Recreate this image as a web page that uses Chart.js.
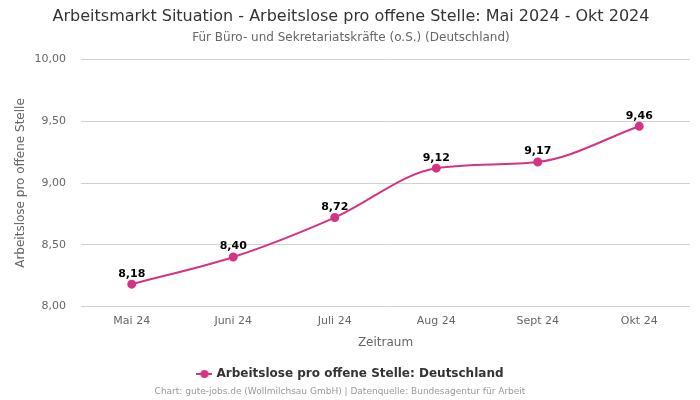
<!DOCTYPE html>
<html>
<head>
<meta charset="utf-8">
<script src="https://cdn.jsdelivr.net/npm/chart.js@4.4.0/dist/chart.umd.min.js"></script>
<style>
  html, body { margin: 0; padding: 0; background: #fff; }
  #wrap { width: 700px; height: 400px; }
</style>
</head>
<body>
<div id="wrap"><canvas id="c"></canvas></div>
<script>
const categories = ["Mai 24", "Juni 24", "Juli 24", "Aug 24", "Sept 24", "Okt 24"];
const values = [8.18, 8.40, 8.72, 9.12, 9.17, 9.46];
const seriesName = "Arbeitslose pro offene Stelle: Deutschland";
const pink = "#d63384";

const fmt = v => v.toFixed(2).replace(".", ",");

// legend marker: short line with a dot in the middle
const marker = document.createElement("canvas");
marker.width = 16;
marker.height = 10;
(() => {
    const m = marker.getContext("2d");
    m.strokeStyle = pink;
    m.fillStyle = pink;
    m.lineWidth = 2;
    m.beginPath();
    m.moveTo(0, 5);
    m.lineTo(16, 5);
    m.stroke();
    m.beginPath();
    m.arc(8, 5, 4, 0, Math.PI * 2);
    m.fill();
})();

const pointLabels = {
    id: "pointLabels",
    afterDatasetsDraw(chart) {
        const ctx = chart.ctx;
        const meta = chart.getDatasetMeta(0);
        ctx.save();
        ctx.font = "bold 11px 'DejaVu Sans'";
        ctx.fillStyle = "#000";
        ctx.textAlign = "center";
        ctx.textBaseline = "bottom";
        meta.data.forEach((pt, i) => {
            ctx.fillText(fmt(values[i]), pt.x, pt.y - 5);
        });
        ctx.restore();
    }
};

const footer = {
    id: "footer",
    afterDraw(chart) {
        const ctx = chart.ctx;
        ctx.save();
        ctx.font = "9px 'DejaVu Sans'";
        ctx.fillStyle = "#999";
        ctx.textAlign = "center";
        ctx.textBaseline = "middle";
        ctx.fillText("Chart: gute-jobs.de (Wollmilchsau GmbH) | Datenquelle: Bundesagentur für Arbeit", 340, 392);
        ctx.restore();
    }
};

new Chart(document.getElementById("c"), {
    type: "line",
    data: {
        labels: categories,
        datasets: [{
            label: seriesName,
            data: values,
            borderColor: pink,
            backgroundColor: pink,
            borderWidth: 2,
            pointRadius: 3.5,
            pointHoverRadius: 3.5,
            cubicInterpolationMode: "monotone",
            fill: false
        }]
    },
    options: {
        responsive: true,
        maintainAspectRatio: false,
        animation: false,
        layout: { padding: { left: 12, right: 10, bottom: 10 } },
        plugins: {
            title: {
                display: true,
                text: "Arbeitsmarkt Situation - Arbeitslose pro offene Stelle: Mai 2024 - Okt 2024",
                color: "#333",
                font: { family: "DejaVu Sans", size: 16, weight: "normal" },
                padding: { top: 7, bottom: 4 }
            },
            subtitle: {
                display: true,
                text: "Für Büro- und Sekretariatskräfte (o.S.) (Deutschland)",
                color: "#666",
                font: { family: "DejaVu Sans", size: 12 },
                padding: { bottom: 15 }
            },
            legend: {
                position: "bottom",
                labels: {
                    usePointStyle: true,
                    color: "#333",
                    font: { family: "DejaVu Sans", size: 12, weight: "bold" },
                    padding: 14,
                    generateLabels(chart) {
                        return [{
                            text: seriesName,
                            fillStyle: pink,
                            strokeStyle: pink,
                            lineWidth: 0,
                            pointStyle: marker,
                            datasetIndex: 0,
                            fontColor: "#333"
                        }];
                    }
                }
            },
            tooltip: { enabled: false }
        },
        scales: {
            x: {
                offset: true,
                grid: { display: false, drawTicks: false },
                border: { display: false },
                ticks: { color: "#666", font: { family: "DejaVu Sans", size: 11 }, padding: 8 },
                title: {
                    display: true, text: "Zeitraum", color: "#666",
                    font: { family: "DejaVu Sans", size: 12 },
                    padding: { top: 0, bottom: 4 }
                }
            },
            y: {
                min: 8,
                max: 10,
                grid: { color: "#d0d0d0", drawTicks: false },
                border: { display: false },
                afterFit(scale) { scale.width = 69; },
                ticks: {
                    stepSize: 0.5,
                    color: "#666",
                    padding: 15,
                    font: { family: "DejaVu Sans", size: 11 },
                    callback: v => fmt(v)
                },
                title: {
                    display: true, text: "Arbeitslose pro offene Stelle", color: "#666",
                    font: { family: "DejaVu Sans", size: 12 },
                    padding: 2
                }
            }
        }
    },
    plugins: [pointLabels, footer]
});
</script>
</body>
</html>
